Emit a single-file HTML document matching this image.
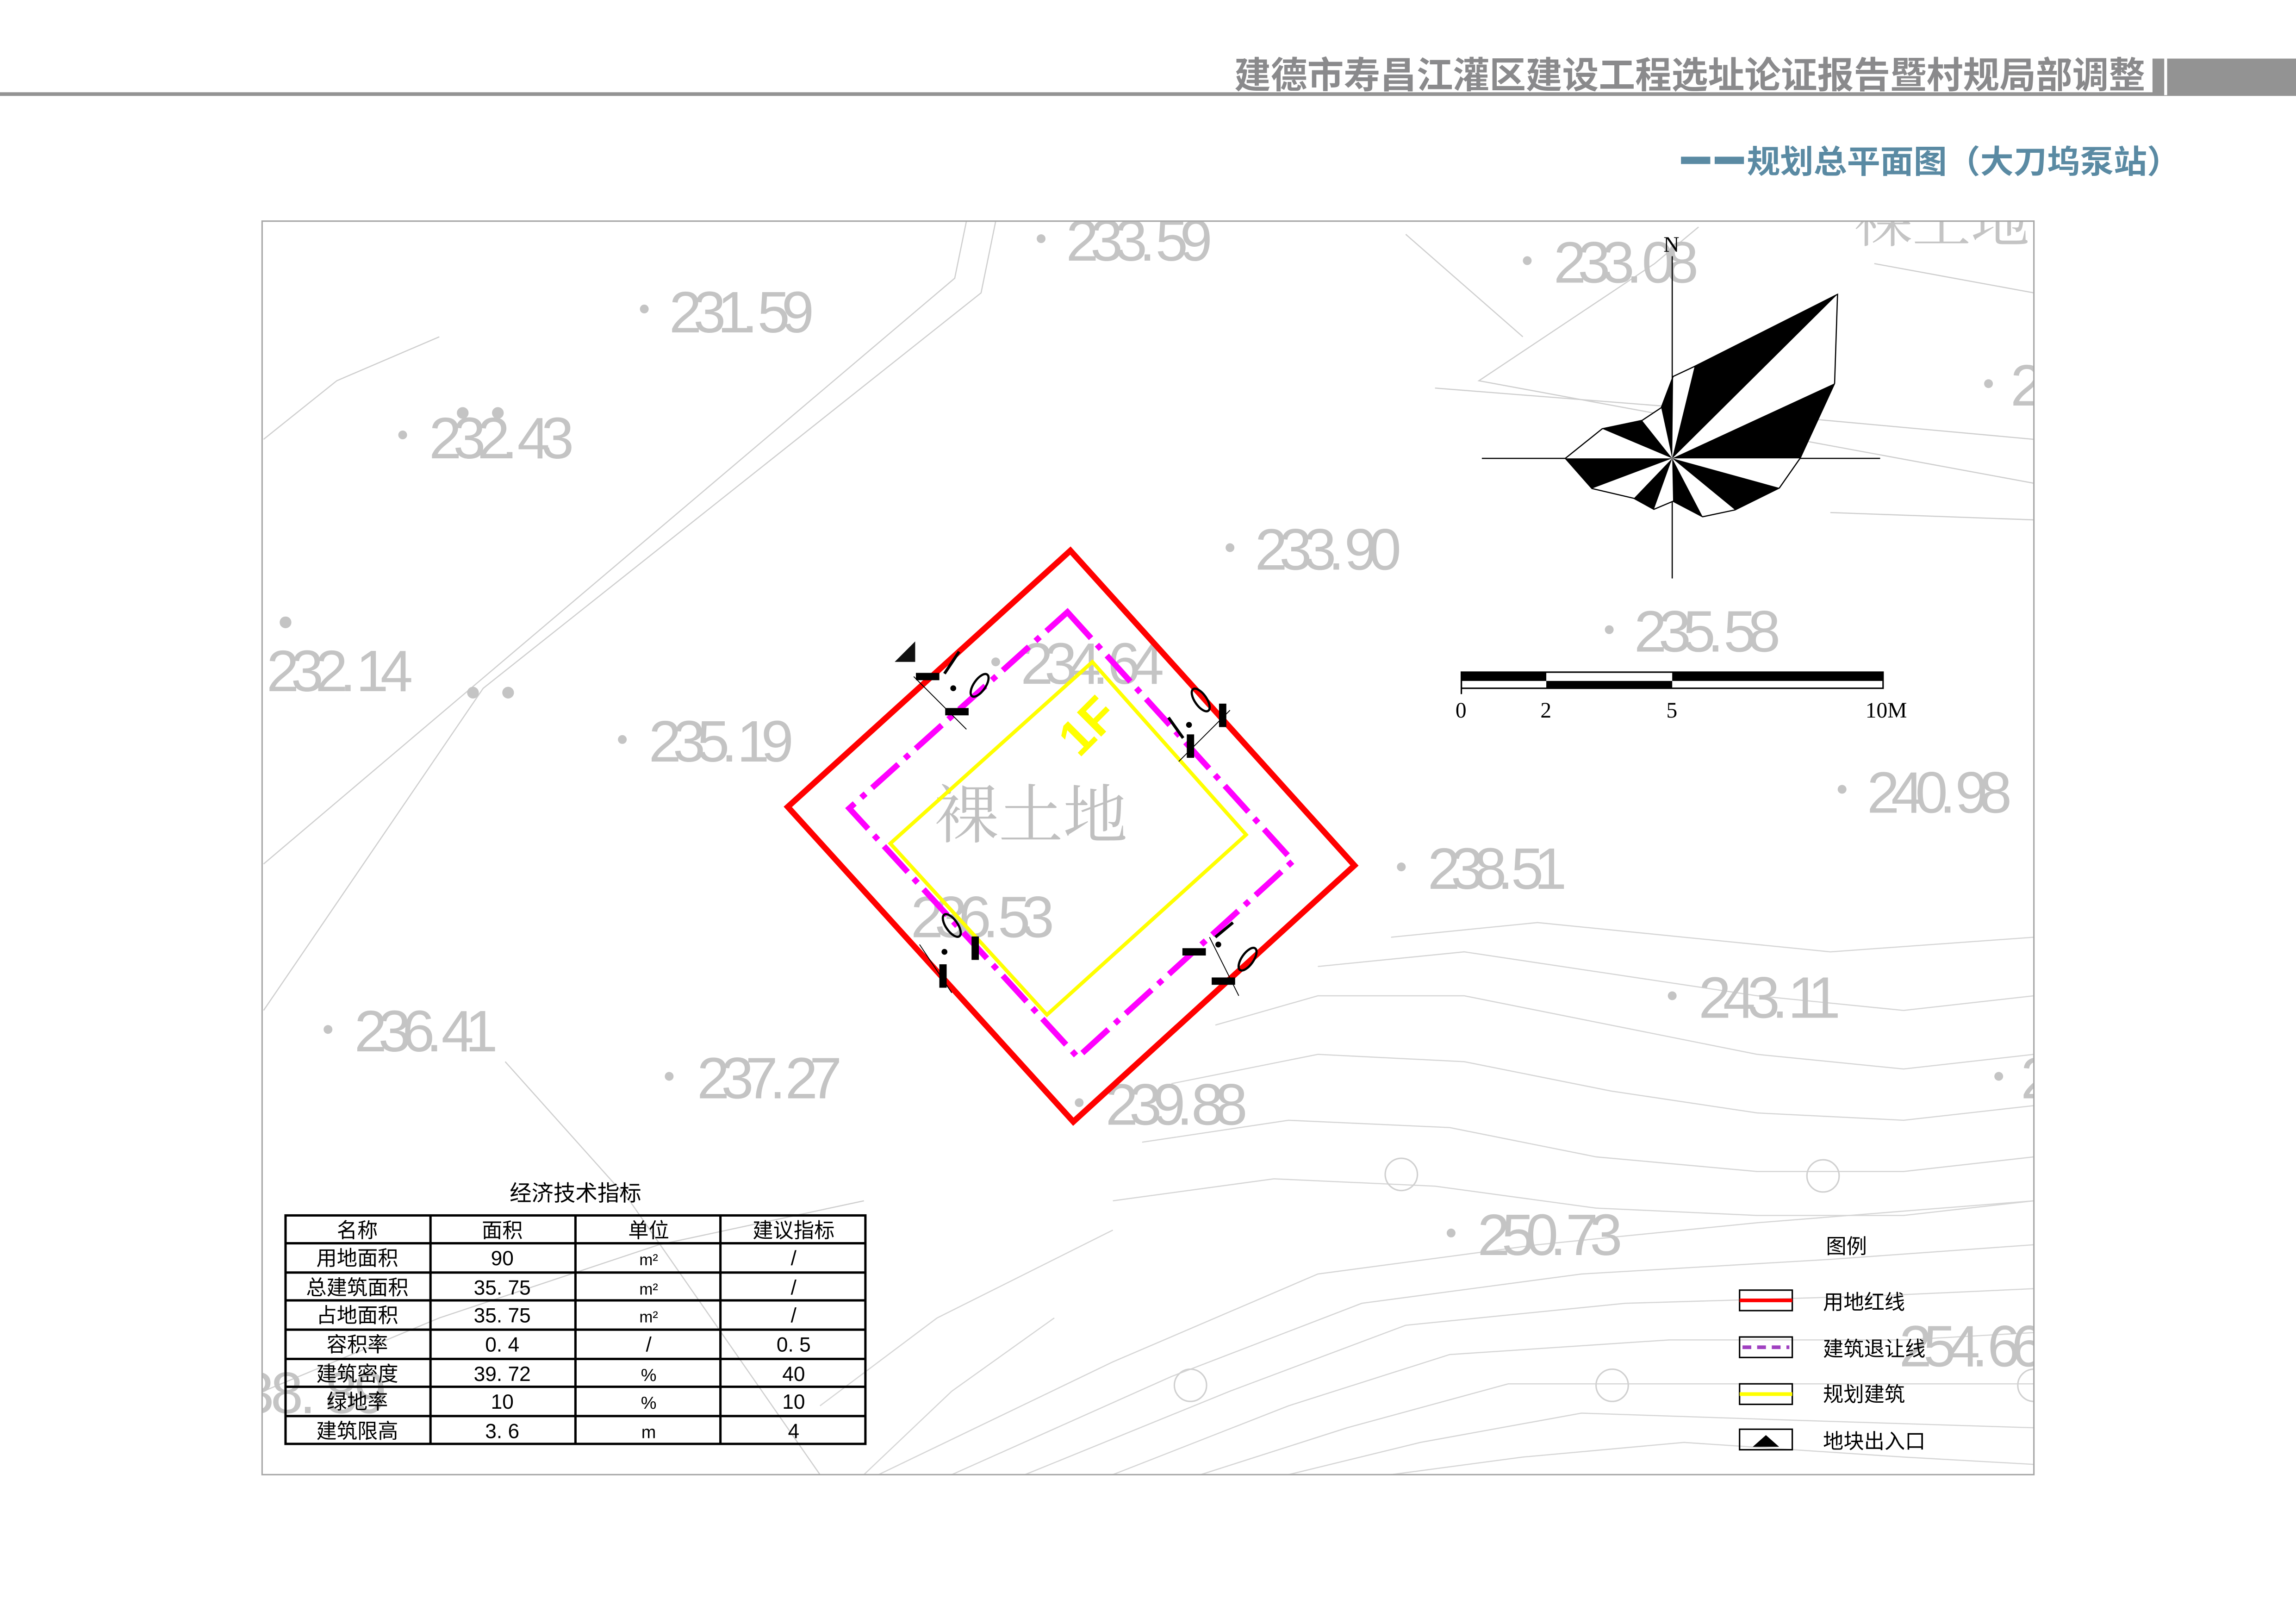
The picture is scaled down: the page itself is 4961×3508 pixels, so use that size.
<!DOCTYPE html>
<html><head><meta charset="utf-8"><style>
html,body{margin:0;padding:0;background:#fff;}
svg{display:block;}
</style></head><body>
<svg width="4961" height="3508" viewBox="0 0 1568 1109" preserveAspectRatio="none" xmlns="http://www.w3.org/2000/svg">
<rect width="1568" height="1109" fill="#fff"/>
<!-- header -->
<rect x="0" y="63" width="1568" height="2.5" fill="#939393"/>
<rect x="1470" y="40" width="98" height="25" fill="#939393"/>
<rect x="1478" y="40" width="2" height="25" fill="#fff"/>
<text x="843" y="60" font-family="Liberation Sans, Noto Sans CJK SC, sans-serif" font-weight="bold" font-size="25" fill="#8a8a8c" textLength="622" lengthAdjust="spacingAndGlyphs">建德市寿昌江灌区建设工程选址论证报告暨村规局部调整</text>
<rect x="1148" y="107" width="20" height="5" fill="#5a8aa3"/>
<rect x="1171" y="107" width="20" height="5" fill="#5a8aa3"/>
<text x="1193" y="118" font-family="Liberation Sans, Noto Sans CJK SC, sans-serif" font-weight="bold" font-size="22" fill="#5a8aa3" textLength="296" lengthAdjust="spacingAndGlyphs">规划总平面图（大刀坞泵站）</text>

<defs><clipPath id="fr"><rect x="179" y="151" width="1210" height="856"/></clipPath></defs>
<g clip-path="url(#fr)">
<g fill="none" stroke="#cfcfcf" stroke-width="0.8">
<polyline points="660,151 652,190 180,590"/>
<polyline points="680,151 670,200 330,470 180,690"/>
<polyline points="1160,155 1130,180 1010,260 1389,330"/>
<polyline points="980,265 1170,280 1389,300"/>
<polyline points="180,300 230,260 300,230"/>
<polyline points="345,725 430,820 560,1007"/>
<polyline points="180,950 300,900 450,850 590,820"/>
<polyline points="960,160 1040,230"/>
<polyline points="1280,180 1389,200"/>
<polyline points="1250,350 1389,355"/>
</g>
<g fill="none" stroke="#d6d6d6" stroke-width="0.8">
<polyline points="600,1007 760,930 900,870 1050,850 1200,835 1389,820"/>
<polyline points="650,1007 800,940 930,890 1080,870 1250,860 1389,850"/>
<polyline points="700,1007 840,950 960,905 1110,890 1280,885 1389,880"/>
<polyline points="760,1007 880,960 990,925 1140,915 1300,915 1389,910"/>
<polyline points="820,1007 920,975 1030,945 1180,945 1389,945"/>
<polyline points="880,1007 970,985 1080,965 1230,970 1389,975"/>
<polyline points="950,1007 1040,995 1150,985 1300,995 1389,1000"/>
<polyline points="830,700 900,680 1000,680 1100,700 1200,720 1300,730 1389,720"/>
<polyline points="800,740 900,720 1000,725 1100,745 1200,760 1300,765 1389,755"/>
<polyline points="780,780 880,765 990,770 1090,790 1200,800 1300,800 1389,790"/>
<polyline points="760,820 870,805 980,810 1090,825 1200,830 1300,830 1389,820"/>
<polyline points="900,660 1000,650 1100,665 1200,680 1300,690 1389,680"/>
<polyline points="950,640 1050,630 1150,640 1250,650 1389,640"/>
<polyline points="560,960 640,900 720,860 760,840"/>
<polyline points="590,1007 650,950 720,900"/>
</g>
<g fill="none" stroke="#d0d0d0" stroke-width="1">
<circle cx="957" cy="802" r="11"/><circle cx="1245" cy="803" r="11"/>
<circle cx="813" cy="946" r="11"/><circle cx="1101" cy="946" r="11"/><circle cx="1389" cy="946" r="11"/>
</g>
<g font-family="Liberation Sans, sans-serif" font-size="40" fill="#c4c4c4" lengthAdjust="spacingAndGlyphs">
<text x="728" y="178" textLength="100">233. 59</text>
<text x="457" y="227" textLength="99">231. 59</text>
<text x="293" y="313" textLength="99">232. 43</text>
<text x="182" y="472" textLength="100">232. 14</text>
<text x="443" y="520" textLength="99">235. 19</text>
<text x="697" y="467" textLength="98">234. 64</text>
<text x="857" y="389" textLength="100">233. 90</text>
<text x="1061" y="193" textLength="99">233. 08</text>
<text x="1116" y="445" textLength="100">235. 58</text>
<text x="1275" y="555" textLength="99">240. 98</text>
<text x="975" y="607" textLength="95">238. 51</text>
<text x="622" y="640" textLength="98">236. 53</text>
<text x="1160" y="695" textLength="97">243. 11</text>
<text x="242" y="718" textLength="98">236. 41</text>
<text x="476" y="750" textLength="99">237. 27</text>
<text x="755" y="768" textLength="97">239. 88</text>
<text x="1009" y="857" textLength="99">250. 73</text>
<text x="1297" y="933" textLength="99">254. 66</text>
<text x="165" y="965" textLength="99">38. 89</text>
<text x="1373" y="277">2</text>
<text x="1380" y="750">2</text>
</g>
<g fill="#c4c4c4">
<circle cx="711" cy="163" r="3"/><circle cx="440" cy="211" r="3"/><circle cx="275" cy="297" r="3"/>
<circle cx="316" cy="282" r="4"/><circle cx="340" cy="282" r="4"/><circle cx="195" cy="425" r="4"/>
<circle cx="323" cy="473" r="4"/><circle cx="347" cy="473" r="4"/><circle cx="425" cy="505" r="3"/>
<circle cx="680" cy="452" r="3"/><circle cx="840" cy="374" r="3"/><circle cx="1043" cy="178" r="3"/>
<circle cx="1099" cy="430" r="3"/><circle cx="1258" cy="539" r="3"/><circle cx="957" cy="592" r="3"/>
<circle cx="1142" cy="680" r="3"/><circle cx="224" cy="703" r="3"/><circle cx="457" cy="735" r="3"/>
<circle cx="737" cy="753" r="3"/><circle cx="991" cy="842" r="3"/><circle cx="1358" cy="262" r="3"/><circle cx="1365" cy="735" r="3"/>
</g>
<text x="1266" y="165" font-family="Liberation Serif, Noto Serif CJK SC, serif" font-size="40" fill="#c4c4c4">裸土地</text>
<text x="638" y="572" font-family="Liberation Serif, Noto Serif CJK SC, serif" font-size="44" fill="#c0c0c0">裸土地</text>
</g>
<rect x="179" y="151" width="1210" height="856" fill="none" stroke="#a8a8a8" stroke-width="1"/>

<polygon points="731,376 925,591 733,766 538,551" fill="none" stroke="#ff0000" stroke-width="4"/>
<polygon points="729,418 883,588 736,722 580,552" fill="none" stroke="#ff00ff" stroke-width="4" stroke-dasharray="24,6,4,6"/>
<polygon points="746,452 851,570 715,693 608,576" fill="none" stroke="#ffff00" stroke-width="2.5"/>
<text x="0" y="0" transform="translate(737,518) rotate(-45)" font-family="Liberation Sans, sans-serif" font-size="34" fill="#ffff00" font-weight="bold">1F</text>
<g stroke="#000" fill="none">
<line x1="624" y1="462" x2="660" y2="498" stroke-width="0.6"/>
<rect x="626" y="460" width="15" height="4" fill="#000"/><rect x="646" y="484" width="15" height="4" fill="#000"/>
<ellipse cx="669" cy="468" rx="4" ry="9" transform="rotate(35 669 468)" stroke-width="1.5"/>
<line x1="645" y1="460" x2="655" y2="445" stroke-width="2"/>
<circle cx="651" cy="470" r="1.5" fill="#000"/>
<line x1="805" y1="520" x2="840" y2="485" stroke-width="0.6"/>
<rect x="811" y="502" width="4" height="15" fill="#000"/><rect x="833" y="481" width="4" height="15" fill="#000"/>
<ellipse cx="820" cy="478" rx="4" ry="9" transform="rotate(-35 820 478)" stroke-width="1.5"/>
<line x1="798" y1="490" x2="808" y2="504" stroke-width="2"/>
<circle cx="812" cy="495" r="1.5" fill="#000"/>
<line x1="628" y1="645" x2="650" y2="678" stroke-width="0.6"/>
<rect x="642" y="659" width="4" height="15" fill="#000"/><rect x="664" y="640" width="4" height="15" fill="#000"/>
<ellipse cx="650" cy="632" rx="4" ry="9" transform="rotate(-35 650 632)" stroke-width="1.5"/>
<circle cx="645" cy="650" r="1.5" fill="#000"/>
<line x1="826" y1="640" x2="846" y2="680" stroke-width="0.6"/>
<rect x="808" y="648" width="15" height="4" fill="#000"/><rect x="828" y="668" width="15" height="4" fill="#000"/>
<ellipse cx="852" cy="655" rx="4" ry="9" transform="rotate(35 852 655)" stroke-width="1.5"/>
<line x1="830" y1="640" x2="842" y2="630" stroke-width="2"/>
<circle cx="832" cy="645" r="1.5" fill="#000"/>
</g>
<polygon points="611,452 625,452 625,438" fill="#111"/>

<line x1="1142" y1="175" x2="1142" y2="395" stroke="#000" stroke-width="0.8"/>
<line x1="1012" y1="313" x2="1284" y2="313" stroke="#000" stroke-width="0.8"/>
<text x="1136" y="172" font-family="Liberation Serif, serif" font-size="15" fill="#000">N</text>
<polygon points="1069,313 1094.2,292.8 1121.4,287.1 1134.5,278.4 1142.6,257.1 1157.3,250.2 1254.9,201 1252.9,261.8 1229.3,313 1215.2,333.2 1184.9,348.2 1162.8,352.9 1142.6,342.3 1129.5,347.8 1115.8,340.3 1087.2,333.6" fill="#fff" stroke="#000" stroke-width="0.8"/>
<g fill="#000">
<polygon points="1142,313 1069,313 1087.2,333.6"/>
<polygon points="1142,313 1115.8,340.3 1129.5,347.8"/>
<polygon points="1142,313 1142.6,342.3 1162.8,352.9"/>
<polygon points="1142,313 1184.9,348.2 1215.2,333.2"/>
<polygon points="1142,313 1229.3,313 1252.9,261.8"/>
<polygon points="1142,313 1254.9,201 1157.3,250.2"/>
<polygon points="1142,313 1142.6,257.1 1134.5,278.4"/>
<polygon points="1142,313 1121.4,287.1 1094.2,292.8"/>
</g>
<rect x="998" y="459" width="288" height="11" fill="#fff" stroke="#000" stroke-width="1"/>
<rect x="998" y="459" width="58" height="6" fill="#000"/>
<rect x="1056" y="465" width="86" height="5" fill="#000"/>
<rect x="1142" y="459" width="144" height="6" fill="#000"/>
<line x1="998" y1="459" x2="998" y2="474" stroke="#000"/>
<g font-family="Liberation Serif, serif" font-size="15" fill="#000">
<text x="994" y="490">0</text><text x="1052" y="490">2</text><text x="1138" y="490">5</text><text x="1274" y="490">10M</text>
</g>

<text x="393" y="820" text-anchor="middle" font-family="Liberation Sans, Noto Sans CJK SC, sans-serif" font-size="15" fill="#000">经济技术指标</text>
<g stroke="#000" stroke-width="1.6" fill="none">
<rect x="195" y="830" width="396" height="156"/>
<line x1="294" y1="830" x2="294" y2="986"/><line x1="393" y1="830" x2="393" y2="986"/><line x1="492" y1="830" x2="492" y2="986"/>
<line x1="195" y1="849" x2="591" y2="849"/><line x1="195" y1="869" x2="591" y2="869"/><line x1="195" y1="888" x2="591" y2="888"/>
<line x1="195" y1="908" x2="591" y2="908"/><line x1="195" y1="928" x2="591" y2="928"/><line x1="195" y1="947" x2="591" y2="947"/><line x1="195" y1="967" x2="591" y2="967"/>
</g>
<g font-family="Liberation Sans, Noto Sans CJK SC, sans-serif" font-size="14" fill="#000" text-anchor="middle">
<text x="244" y="845">名称</text><text x="343" y="845">面积</text><text x="443" y="845">单位</text><text x="542" y="845">建议指标</text>
<text x="244" y="864">用地面积</text><text x="343" y="864">90</text><text x="443" y="864" font-size="11">m²</text><text x="542" y="864">/</text>
<text x="244" y="884">总建筑面积</text><text x="343" y="884">35. 75</text><text x="443" y="884" font-size="11">m²</text><text x="542" y="884">/</text>
<text x="244" y="903">占地面积</text><text x="343" y="903">35. 75</text><text x="443" y="903" font-size="11">m²</text><text x="542" y="903">/</text>
<text x="244" y="923">容积率</text><text x="343" y="923">0. 4</text><text x="443" y="923">/</text><text x="542" y="923">0. 5</text>
<text x="244" y="943">建筑密度</text><text x="343" y="943">39. 72</text><text x="443" y="943" font-size="12">%</text><text x="542" y="943">40</text>
<text x="244" y="962">绿地率</text><text x="343" y="962">10</text><text x="443" y="962" font-size="12">%</text><text x="542" y="962">10</text>
<text x="244" y="982">建筑限高</text><text x="343" y="982">3. 6</text><text x="443" y="982" font-size="12">m</text><text x="542" y="982">4</text>
</g>

<g font-family="Liberation Sans, Noto Sans CJK SC, sans-serif" font-size="14" fill="#000">
<text x="1247" y="856">图例</text>
<text x="1245" y="894">用地红线</text>
<text x="1245" y="926">建筑退让线</text>
<text x="1245" y="957">规划建筑</text>
<text x="1245" y="989">地块出入口</text>
</g>
<rect x="1188" y="881" width="36" height="14" fill="none" stroke="#000" stroke-width="1"/>
<line x1="1188" y1="888" x2="1224" y2="888" stroke="#ff0000" stroke-width="2.5"/>
<rect x="1188" y="913" width="36" height="14" fill="none" stroke="#000" stroke-width="1"/>
<line x1="1190" y1="920" x2="1222" y2="920" stroke="#a040c0" stroke-width="2.5" stroke-dasharray="6,4"/>
<rect x="1188" y="945" width="36" height="14" fill="none" stroke="#000" stroke-width="1"/>
<line x1="1188" y1="952" x2="1224" y2="952" stroke="#ffff00" stroke-width="2.5"/>
<rect x="1188" y="976" width="36" height="14" fill="none" stroke="#000" stroke-width="1"/>
<polygon points="1197,988 1215,988 1206,980" fill="#000"/>
</svg>
</body></html>
